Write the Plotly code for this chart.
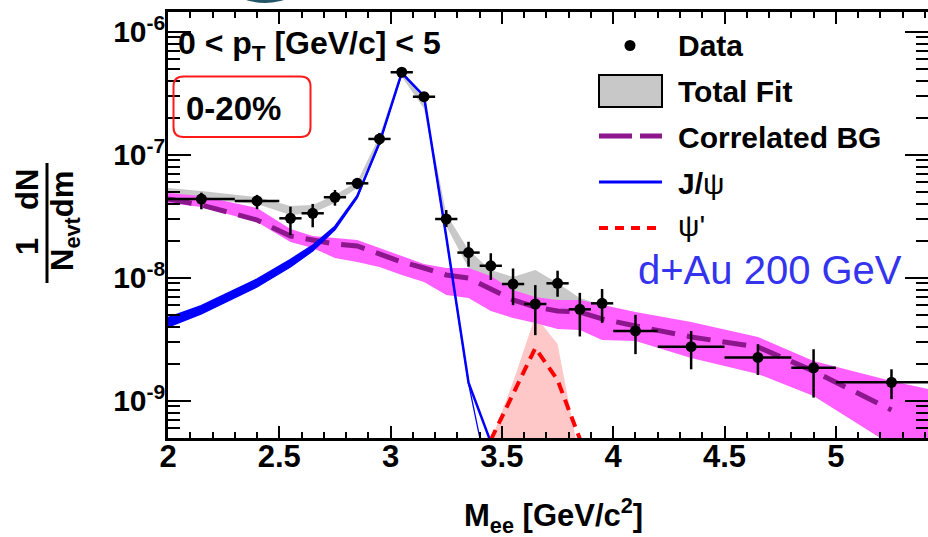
import plotly.graph_objects as go

# ---------------- data ----------------
mass = [2.15, 2.4, 2.55, 2.65, 2.75, 2.85, 2.95, 3.05, 3.15, 3.25, 3.35, 3.45,
        3.55, 3.65, 3.75, 3.85, 3.95, 4.1, 4.35, 4.65, 4.9, 5.25]
mass_halfwidth = [0.15, 0.1, 0.05, 0.05, 0.05, 0.05, 0.05, 0.05, 0.05, 0.05, 0.05,
                  0.05, 0.05, 0.05, 0.05, 0.05, 0.05, 0.1, 0.15, 0.15, 0.1, 0.25]
yield_data = [4.36e-8, 4.21e-8, 3.04e-8, 3.34e-8, 4.51e-8, 5.85e-8, 1.343e-7, 4.68e-7,
              2.96e-7, 3.0e-8, 1.60e-8, 1.25e-8, 8.88e-9, 6.11e-9, 9.0e-9, 5.53e-9,
              6.19e-9, 3.69e-9, 2.75e-9, 2.25e-9, 1.85e-9, 1.41e-9]
err_up = [0.55e-8, 0.5e-8, 0.74e-8, 0.64e-8, 0.65e-8, 0.58e-8, 1.6e-8, 2.0e-8, 1.2e-8,
          0.55e-8, 0.36e-8, 0.33e-8, 3.0e-9, 2.6e-9, 2.4e-9, 2.0e-9, 1.9e-9, 1.3e-9,
          0.94e-9, 0.63e-9, 0.77e-9, 0.39e-9]
err_down = [0.76e-8, 0.6e-8, 0.82e-8, 0.77e-8, 0.66e-8, 0.61e-8, 1.4e-8, 2.0e-8, 1.2e-8,
            0.42e-8, 0.37e-8, 0.29e-8, 2.9e-9, 2.7e-9, 2.0e-9, 2.2e-9, 1.9e-9, 1.3e-9,
            0.95e-9, 0.63e-9, 0.79e-9, 0.38e-9]

# total fit band
fit_x = [2.0, 2.15, 2.4, 2.55, 2.65, 2.75, 2.85, 2.95, 3.05, 3.15, 3.25, 3.35, 3.45,
         3.55, 3.65, 3.75, 3.85, 3.95]
fit_hi = [5.36e-8, 5.07e-8, 4.53e-8, 3.83e-8, 3.90e-8, 4.70e-8, 6.03e-8, 1.419e-7, 4.9e-7,
          2.76e-7, 3.29e-8, 1.68e-8, 1.155e-8, 1.013e-8, 1.155e-8, 9.06e-9, 6.84e-9, 6.0e-9]
fit_lo = [4.62e-8, 4.36e-8, 3.97e-8, 3.23e-8, 3.36e-8, 4.05e-8, 5.36e-8, 1.177e-7, 4.3e-7,
          2.38e-7, 2.63e-8, 1.20e-8, 8.72e-9, 7.23e-9, 6.59e-9, 6.0e-9, 5.26e-9, 5.0e-9]

# correlated background: central line and band
bg_x = [2.0, 2.15, 2.4, 2.55, 2.65, 2.75, 2.85, 2.95, 3.05, 3.15, 3.25, 3.35, 3.45, 3.55,
        3.65, 3.75, 3.85, 3.95, 4.1, 4.35, 4.65, 4.9, 5.25]
bg_y = [4.36e-8, 3.90e-8, 2.945e-8, 2.18e-8, 2.025e-8, 1.88e-8, 1.81e-8, 1.56e-8, 1.342e-8,
        1.199e-8, 1.052e-8, 9.94e-9, 8.09e-9, 6.59e-9, 5.78e-9, 5.36e-9, 5.26e-9, 4.62e-9,
        4.05e-9, 3.30e-9, 2.73e-9, 1.74e-9, 8.4e-10]
band_x = [2.0, 2.15, 2.4, 2.55, 2.65, 2.75, 2.85, 2.95, 3.05, 3.15, 3.25, 3.35, 3.45, 3.55,
          3.65, 3.75, 3.85, 3.95, 4.1, 4.35, 4.65, 4.9, 5.25, 5.42]
band_hi = [4.88e-8, 4.62e-8, 3.69e-8, 2.49e-8, 2.18e-8, 2.10e-8, 2.025e-8, 1.744e-8, 1.501e-8,
           1.292e-8, 1.199e-8, 1.199e-8, 1.032e-8, 7.94e-9, 6.97e-9, 6.59e-9, 6.59e-9, 6.0e-9,
           5.26e-9, 4.36e-9, 3.30e-9, 2.10e-9, 1.446e-9, 1.24e-9]
band_lo = [4.05e-8, 3.76e-8, 2.84e-8, 1.95e-8, 1.744e-8, 1.446e-8, 1.342e-8, 1.222e-8, 1.052e-8,
           9.23e-9, 7.23e-9, 6.84e-9, 5.36e-9, 4.70e-9, 4.28e-9, 3.83e-9, 3.76e-9, 3.11e-9,
           3.06e-9, 2.22e-9, 1.648e-9, 1.092e-9, 4.36e-10, 3.1e-10]

# J/psi
jpsi_x = [2.0, 2.15, 2.4, 2.55, 2.65, 2.75, 2.85, 2.95, 3.05, 3.15, 3.25, 3.35, 3.45]
jpsi_hi = [4.70e-9, 5.88e-9, 9.66e-9, 1.393e-8, 1.815e-8, 2.58e-8, 4.6e-8, 1.25e-7, 4.62e-7,
           3.0e-7, 2.15e-8, 1.40e-9, 4.6e-10]
jpsi_lo = [3.97e-9, 5.07e-9, 8.40e-9, 1.222e-8, 1.648e-8, 2.45e-8, 4.45e-8, 1.24e-7, 4.60e-7,
           2.99e-7, 2.13e-8, 1.38e-9, 1.85e-10]

# psi'
psi2_x = [3.45, 3.55, 3.65, 3.75, 3.85]
psi2_y = [4.8e-10, 1.13e-9, 2.68e-9, 1.47e-9, 4.9e-10]
psi2_hi = [4.7e-10, 1.42e-9, 4.88e-9, 2.89e-9, 3.3e-10]
psi2_lo = [1e-10, 1e-10, 1e-10, 1e-10, 1e-10]

x_ticks = [2, 2.5, 3, 3.5, 4, 4.5, 5]
y_ticks = [1e-9, 1e-8, 1e-7, 1e-6]
y_ticktext = ["10<sup>-9</sup>", "10<sup>-8</sup>", "10<sup>-7</sup>", "10<sup>-6</sup>"]

# ---------------- figure ----------------
W, H = 928, 537
ML, MR, MT, MB = 168, 0, 12, 99
PW, PH = W - ML - MR, H - MT - MB
FONT = "Liberation Sans, Arial, Helvetica, sans-serif"

def px(x):
    return (x - ML) / PW

def py(y):
    return 1 - (y - MT) / PH

GREY = "#C8C8C8"
MAGENTA = "#FF60FF"
PURPLE = "#8C168C"
BLUE = "#0000FF"
RED = "#FF0000"
PINK = "#FFC8C8"

fig = go.Figure()

def band(x, lo, hi, color):
    fig.add_trace(go.Scatter(x=x, y=lo, mode="lines", line=dict(width=0, color=color),
                             showlegend=False, hoverinfo="skip"))
    fig.add_trace(go.Scatter(x=x, y=hi, mode="lines", line=dict(width=0, color=color),
                             fill="tonexty", fillcolor=color, showlegend=False,
                             hoverinfo="skip"))

band(fit_x, fit_lo, fit_hi, GREY)
band(psi2_x, psi2_lo, psi2_hi, PINK)
band(band_x, band_lo, band_hi, MAGENTA)

fig.add_trace(go.Scatter(x=bg_x, y=bg_y, mode="lines",
                         line=dict(color=PURPLE, width=5, dash="24px,12px"),
                         showlegend=False))

# J/psi band (low mass part filled) and edges
n_fill = 11
band(jpsi_x[:n_fill], jpsi_lo[:n_fill], jpsi_hi[:n_fill], BLUE)
fig.add_trace(go.Scatter(x=jpsi_x, y=jpsi_lo, mode="lines",
                         line=dict(color=BLUE, width=1.3), showlegend=False))
fig.add_trace(go.Scatter(x=jpsi_x, y=jpsi_hi, mode="lines",
                         line=dict(color=BLUE, width=2.5), showlegend=False))

fig.add_trace(go.Scatter(x=psi2_x, y=psi2_y, mode="lines",
                         line=dict(color=RED, width=4, dash="11px,7px"),
                         showlegend=False))

fig.add_trace(go.Scatter(
    x=mass, y=yield_data, mode="markers",
    marker=dict(color="black", size=11),
    error_x=dict(type="data", array=mass_halfwidth, arrayminus=mass_halfwidth,
                 color="black", thickness=2.5, width=0),
    error_y=dict(type="data", array=err_up, arrayminus=err_down,
                 color="black", thickness=2.5, width=0),
    showlegend=False))

fig.update_xaxes(
    range=[2, 5.414], showline=True, linewidth=2.5, linecolor="black", mirror="ticks",
    ticks="inside", ticklen=12, tickwidth=2, tickcolor="black",
    tickmode="array", tickvals=x_ticks, automargin=False,
    minor=dict(ticks="inside", ticklen=6, tickwidth=2, tickcolor="black", dtick=0.1, tick0=2),
    showgrid=False, zeroline=False,
    tickfont=dict(family=FONT, size=31, color="black", weight="bold"),
    ticklabelstandoff=-11,
)
fig.update_yaxes(
    type="log", range=[-9.3033, -5.8398], showline=True, linewidth=2.5, linecolor="black",
    mirror="ticks", ticks="inside", ticklen=23, tickwidth=2, tickcolor="black",
    tickmode="array", tickvals=y_ticks, ticktext=y_ticktext, automargin=False,
    minor=dict(ticks="inside", ticklen=12, tickwidth=2, tickcolor="black", dtick="D1"),
    showgrid=False, zeroline=False,
    tickfont=dict(family=FONT, size=30, color="black", weight="bold"),
    ticklabelstandoff=-6,
)

ann = []
def text(x, y, s, size, weight="bold", color="black", xanchor="left", angle=0):
    ann.append(dict(x=px(x), y=py(y), xref="paper", yref="paper", text=s, showarrow=False,
                    xanchor=xanchor, yanchor="middle", textangle=angle,
                    font=dict(family=FONT, size=size, color=color, weight=weight)))

text(176, 45, "0 < p<sub>T</sub> [GeV/c] < 5", 32)
text(233, 108, "0-20%", 33, xanchor="center")
text(770, 270, "d+Au 200 GeV", 40, weight="normal", color="#3434EE", xanchor="center")
text(553, 515, "M<sub>ee</sub> [GeV/c<sup>2</sup>]", 31, xanchor="center")

# y-axis title as a fraction
text(27, 247, "1", 31, xanchor="center", angle=-90)
text(27, 190, "dN", 31, xanchor="center", angle=-90)
text(65, 221, "N<sub>evt</sub>dm", 31, xanchor="center", angle=-90)

# legend
text(676, 45, "Data", 30)
text(676, 91, "Total Fit", 30)
text(676, 137, "Correlated BG", 30)
text(676, 183, "<b>J/</b>ψ", 30, weight="normal")
text(676, 225, "ψ'", 30, weight="normal")

shapes = []
def pline(x0, y0, x1, y1, color, width, dash="solid"):
    shapes.append(dict(type="line", xref="paper", yref="paper", x0=px(x0), y0=py(y0),
                       x1=px(x1), y1=py(y1), line=dict(color=color, width=width, dash=dash)))

# fraction bar
pline(47, 163, 47, 283, "black", 3)
# legend symbols
shapes.append(dict(type="circle", xref="paper", yref="paper", x0=px(624.5), x1=px(635.5),
                   y0=py(51), y1=py(40), fillcolor="black", line=dict(width=0)))
shapes.append(dict(type="rect", xref="paper", yref="paper", x0=px(599), x1=px(662),
                   y0=py(107), y1=py(75), fillcolor=GREY, line=dict(color="black", width=2)))
pline(599, 136, 632, 136, PURPLE, 5)
pline(640, 136, 662, 136, PURPLE, 5)
pline(599, 182, 662, 182, BLUE, 3)
pline(599, 228, 660, 228, RED, 4, dash="9px,7px")

# rounded red box around centrality label
x0, x1, y0, y1, r = 173.5, 310.5, 76.5, 137, 10
rx, ry = r / PW, r / PH
X0, X1, Y0, Y1 = px(x0), px(x1), py(y1), py(y0)
path = (f"M {X0+rx},{Y1} L {X1-rx},{Y1} Q {X1},{Y1} {X1},{Y1-ry} "
        f"L {X1},{Y0+ry} Q {X1},{Y0} {X1-rx},{Y0} L {X0+rx},{Y0} "
        f"Q {X0},{Y0} {X0},{Y0+ry} L {X0},{Y1-ry} Q {X0},{Y1} {X0+rx},{Y1} Z")
shapes.append(dict(type="path", xref="paper", yref="paper", path=path,
                   line=dict(color="#FF1A1A", width=2)))

# partial logo at top edge
shapes.append(dict(type="circle", xref="paper", yref="paper", x0=px(228), x1=px(302),
                   y0=py(3), y1=py(-40), fillcolor="#24566A", line=dict(width=0)))

fig.update_layout(
    width=W, height=H, margin=dict(l=ML, r=MR, t=MT, b=MB, autoexpand=False),
    paper_bgcolor="white", plot_bgcolor="white",
    showlegend=False, annotations=ann, shapes=shapes,
)

fig.write_html("out.html", config={"displayModeBar": False},
               post_script="document.body.style.margin='0';document.body.style.overflow='hidden';")
